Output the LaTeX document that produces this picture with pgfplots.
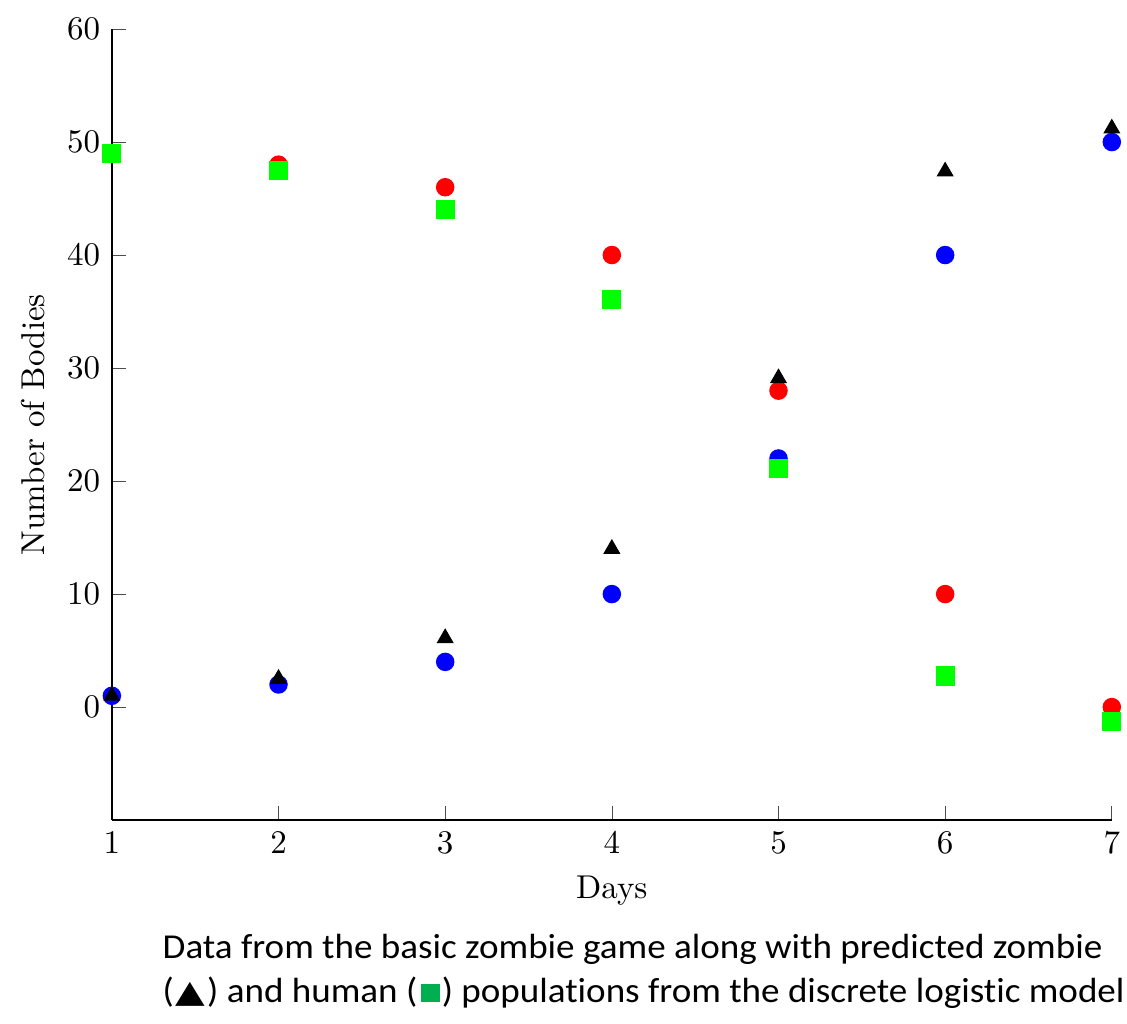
\documentclass[border=0pt]{standalone}
\usepackage{fontspec}
\usepackage{pgfplots}
\pgfplotsset{compat=1.18}
\newfontfamily\capfont{Carlito}[FakeStretch=1.06, Ligatures=NoCommon]
\newfontfamily\symfont{DejaVu Sans}
\definecolor{officegreen}{HTML}{00B050}
\begin{document}
\begin{tikzpicture}
\begin{axis}[
  scale only axis, width=303pt, height=239.7pt,
  xmin=1, xmax=7, ymin=-10, ymax=60,
  xtick={1,...,7}, ytick={0,10,...,60},
  axis lines*=left, tick align=inside,
  major tick length=4.3pt,
  tick style={black!70},
  xticklabel style={inner xsep=0.5pt},
  xlabel={Days}, ylabel={Number of Bodies},
  clip=false,
]
\addplot[only marks, mark=*, mark size=2.6pt, draw=red, fill=red] coordinates {(1,49)(2,48)(3,46)(4,40)(5,28)(6,10)(7,0)};
\addplot[only marks, mark=*, mark size=2.6pt, draw=blue, fill=blue] coordinates {(1,1)(2,2)(3,4)(4,10)(5,22)(6,40)(7,50)};
\addplot[only marks, mark=triangle*, mark size=2.6pt, draw=black, fill=black] coordinates {(1,1)(2,2.5)(3,6.1)(4,14)(5,29.1)(6,47.4)(7,51.2)};
\addplot[only marks, mark=square*, mark size=2.7pt, draw=green, fill=green] coordinates {(1,49)(2,47.5)(3,44)(4,36.1)(5,21.1)(6,2.75)(7,-1.25)};
\node[anchor=base west, inner sep=0pt, xshift=15.2pt, yshift=-41.8pt, font=\capfont\fontsize{10.6}{13}\selectfont] at (rel axis cs:0,0) {Data from the basic zombie game along with predicted zombie};
\node[anchor=base west, inner sep=0pt, xshift=15.2pt, yshift=-55.2pt, font=\capfont\fontsize{10.6}{13}\selectfont] at (rel axis cs:0,0) {(\hspace{0.6pt}{\symfont\fontsize{9.5}{12}\selectfont\scalebox{1.23}[1]{▲}}\hspace{0.5pt}) and human (\hspace{1pt}\textcolor{officegreen}{\rule{5.7pt}{5.5pt}}\hspace{0.7pt}) populations from the discrete logistic model};
\path (rel axis cs:0,0) ++(-33.9pt,-61.5pt) rectangle ++(341.5pt,310pt);
\end{axis}
\end{tikzpicture}
\end{document}
